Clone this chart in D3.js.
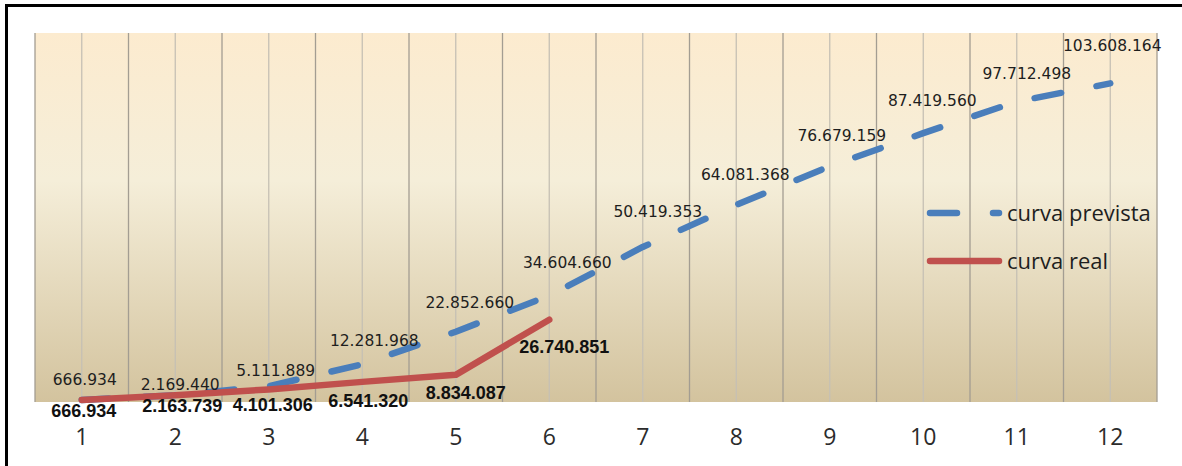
<!DOCTYPE html>
<meta charset="utf-8">
<script src="https://d3js.org/d3.v7.min.js"></script>
<style>
  body { margin: 0; background: #fff; }
</style>
<div id="my_dataviz"></div>
<script>

  // months 1..12
  var months = ["1","2","3","4","5","6","7","8","9","10","11","12"];
  // cumulative values
  var curvaPrevista = [666934, 2169440, 5111889, 12281968, 22852660, 34604660, 50419353, 64081368, 76679159, 87419560, 97712498, 103608164];
  var curvaReal = [666934, 2163739, 4101306, 6541320, 8834087, 26740851];
  var seriesNames = ["curva prevista", "curva real"];

  // label nudges (excel moved some labels around), [dx, dy to baseline]
  var previstaLabelShift = [[3,-15],[5,-5],[7,-10],[12,-18],[14,-24],[18,-28],[15,-30],[9,-25],[12,-25],[9,-27],[10,-23],[2,-32]];
  var realLabelShift = [[2,17],[7,17],[4,22],[6,25],[10,24],[15,33]];

  var W = 1182, H = 466;
  var plot = {left: 35, right: 1157, top: 33, bottom: 402};

  var svg = d3.select("#my_dataviz")
    .append("svg")
      .attr("width", W)
      .attr("height", H)
      .style("display", "block");

  // background gradient of the plot area
  var grad = svg.append("defs").append("linearGradient")
    .attr("id", "bg").attr("x1", 0).attr("y1", 0).attr("x2", 0).attr("y2", 1);
  grad.append("stop").attr("offset", "0%").attr("stop-color", "#fcebcf");
  grad.append("stop").attr("offset", "40%").attr("stop-color", "#f5eed9");
  grad.append("stop").attr("offset", "100%").attr("stop-color", "#d3c39e");

  svg.append("rect")
    .attr("x", plot.left).attr("y", plot.top)
    .attr("width", plot.right - plot.left).attr("height", plot.bottom - plot.top)
    .style("fill", "url(#bg)");

  // scales
  var x = d3.scaleBand()
    .domain(months)
    .range([plot.left, plot.right])
    .padding(0);
  var cx = function(i) { return x(months[i]) + x.bandwidth() / 2; };

  var y = d3.scaleLinear()
    .domain([0, 120000000])
    .range([plot.bottom, plot.top]);

  // vertical grid: darker at band edges, lighter in the middle of each band
  var edges = months.map(function(m) { return x(m); }).concat([plot.right]);
  svg.selectAll("gridEdge")
    .data(edges)
    .enter()
    .append("line")
      .attr("x1", function(d) { return d; }).attr("x2", function(d) { return d; })
      .attr("y1", plot.top).attr("y2", plot.bottom)
      .style("stroke", "#a39d92")
      .style("stroke-width", 1.3);
  svg.selectAll("gridMid")
    .data(months)
    .enter()
    .append("line")
      .attr("x1", function(d, i) { return cx(i); }).attr("x2", function(d, i) { return cx(i); })
      .attr("y1", plot.top).attr("y2", plot.bottom)
      .style("stroke", "#c6c0b4")
      .style("stroke-width", 1.3);

  // x axis
  var xAxis = svg.append("g")
    .attr("transform", "translate(0," + plot.bottom + ")")
    .call(d3.axisBottom(x).tickSize(0).tickPadding(27));
  xAxis.select(".domain").remove();
  xAxis.selectAll("text")
    .style("font-family", "'Open Sans', sans-serif")
    .style("font-size", "23px")
    .style("fill", "#2b2b2b");

  var line = d3.line()
    .x(function(d, i) { return cx(i); })
    .y(function(d) { return y(d); });

  // curva prevista (dashed blue)
  svg.append("path")
    .datum(curvaPrevista)
    .attr("d", line)
    .style("fill", "none")
    .style("stroke", "#4a7ebb")
    .style("stroke-width", 6.5)
    .style("stroke-linecap", "round")
    .style("stroke-linejoin", "round")
    .style("stroke-dasharray", "27,36");

  // curva real (solid red)
  svg.append("path")
    .datum(curvaReal)
    .attr("d", line)
    .style("fill", "none")
    .style("stroke", "#c0504d")
    .style("stroke-width", 6.5)
    .style("stroke-linecap", "round")
    .style("stroke-linejoin", "round");

  var fmt = function(v) { return d3.format(",")(v).replace(/,/g, "."); };

  // value labels
  svg.selectAll("labPrev")
    .data(curvaPrevista)
    .enter()
    .append("text")
      .attr("x", function(d, i) { return cx(i) + previstaLabelShift[i][0]; })
      .attr("y", function(d, i) { return y(d) + previstaLabelShift[i][1]; })
      .attr("text-anchor", "middle")
      .style("font-family", "'DejaVu Sans', sans-serif")
      .style("font-size", "15.5px")
      .style("fill", "#1e1e1e")
      .text(fmt);

  svg.selectAll("labReal")
    .data(curvaReal)
    .enter()
    .append("text")
      .attr("x", function(d, i) { return cx(i) + realLabelShift[i][0]; })
      .attr("y", function(d, i) { return y(d) + realLabelShift[i][1]; })
      .attr("text-anchor", "middle")
      .style("font-family", "'Liberation Sans', Arial, sans-serif")
      .style("font-weight", "bold")
      .style("font-size", "18px")
      .style("fill", "#111")
      .text(fmt);

  // legend
  var legend = svg.append("g");
  var legendRows = [
    {name: seriesNames[0], color: "#4a7ebb", dash: "27,36", y: 213},
    {name: seriesNames[1], color: "#c0504d", dash: null, y: 261}
  ];
  legendRows.forEach(function(r) {
    legend.append("line")
      .attr("x1", 930).attr("x2", 999)
      .attr("y1", r.y).attr("y2", r.y)
      .style("stroke", r.color)
      .style("stroke-width", 6.5)
      .style("stroke-linecap", "round")
      .style("stroke-dasharray", r.dash);
    legend.append("text")
      .attr("x", 1007)
      .attr("y", r.y + 8)
      .style("font-family", "'Open Sans', sans-serif")
      .style("font-size", "22px")
      .style("fill", "#1e1e1e")
      .text(r.name);
  });

  // outer frame (right and bottom edges fall outside the picture)
  svg.append("rect")
    .attr("x", 6.5).attr("y", 5.5)
    .attr("width", 1300).attr("height", 600)
    .style("fill", "none")
    .style("stroke", "#000")
    .style("stroke-width", 3);

</script>
